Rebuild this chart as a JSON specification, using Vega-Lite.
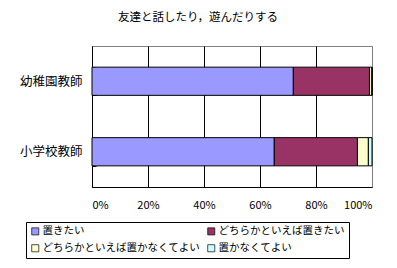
{
  "$schema": "https://vega.github.io/schema/vega-lite/v6.json",
  "width": 280,
  "height": 141,
  "autosize": "none",
  "padding": {"left": 92, "top": 46, "right": 25, "bottom": 81},
  "background": "white",
  "title": {
    "text": "友達と話したり，遊んだりする",
    "font": "Noto Sans CJK JP",
    "fontSize": 11.5,
    "fontWeight": "normal",
    "color": "black",
    "anchor": "middle",
    "dx": -34,
    "offset": 17
  },
  "data": {
    "values": [
      {"group": "幼稚園教師", "cat": "置きたい", "k": 1, "v": 0.719},
      {"group": "幼稚園教師", "cat": "どちらかといえば置きたい", "k": 2, "v": 0.272},
      {"group": "幼稚園教師", "cat": "どちらかといえば置かなくてよい", "k": 3, "v": 0.009},
      {"group": "幼稚園教師", "cat": "置かなくてよい", "k": 4, "v": 0.0},
      {"group": "小学校教師", "cat": "置きたい", "k": 1, "v": 0.651},
      {"group": "小学校教師", "cat": "どちらかといえば置きたい", "k": 2, "v": 0.297},
      {"group": "小学校教師", "cat": "どちらかといえば置かなくてよい", "k": 3, "v": 0.039},
      {"group": "小学校教師", "cat": "置かなくてよい", "k": 4, "v": 0.013}
    ]
  },
  "mark": {"type": "bar", "stroke": "black", "strokeWidth": 1},
  "encoding": {
    "y": {
      "field": "group",
      "type": "nominal",
      "sort": ["幼稚園教師", "小学校教師"],
      "scale": {"paddingInner": 0.6, "paddingOuter": 0.3},
      "axis": {
        "title": null,
        "labelFont": "Noto Sans CJK JP",
        "labelFontSize": 12.5,
        "labelColor": "black",
        "labelPadding": 14,
        "ticks": true,
        "tickBand": "extent",
        "tickSize": -4,
        "tickColor": "black",
        "domainColor": "black",
        "grid": false
      }
    },
    "x": {
      "field": "v",
      "type": "quantitative",
      "stack": "zero",
      "scale": {"domain": [0, 1], "nice": false},
      "axis": {
        "title": null,
        "format": "%",
        "values": [0, 0.2, 0.4, 0.6, 0.8, 1],
        "labelFont": "Noto Sans CJK JP",
        "labelFontSize": 11,
        "labelColor": "black",
        "labelPadding": 12,
        "ticks": false,
        "domainColor": "black",
        "grid": true,
        "gridColor": {"condition": {"test": "datum.value == 1", "value": "#808080"}, "value": "black"},
        "gridOpacity": 1
      }
    },
    "color": {
      "field": "cat",
      "type": "nominal",
      "scale": {
        "domain": ["置きたい", "どちらかといえば置きたい", "どちらかといえば置かなくてよい", "置かなくてよい"],
        "range": ["#9999FF", "#993366", "#FFFFCC", "#CCFFFF"]
      },
      "legend": {
        "title": null,
        "orient": "none",
        "legendX": -66,
        "legendY": 176,
        "direction": "horizontal",
        "columns": 2,
        "columnPadding": 6,
        "rowPadding": 6,
        "padding": 4,
        "strokeColor": "black",
        "symbolType": "square",
        "symbolSize": 50,
        "symbolStrokeColor": "black",
        "symbolStrokeWidth": 0.7,
        "symbolOpacity": 1,
        "labelOffset": 2,
        "labelFont": "Noto Sans CJK JP",
        "labelFontSize": 10.5,
        "labelColor": "black",
        "labelLimit": 300
      }
    },
    "order": {"field": "k", "type": "quantitative"}
  },
  "config": {
    "view": {"stroke": "#808080", "strokeWidth": 1}
  }
}
